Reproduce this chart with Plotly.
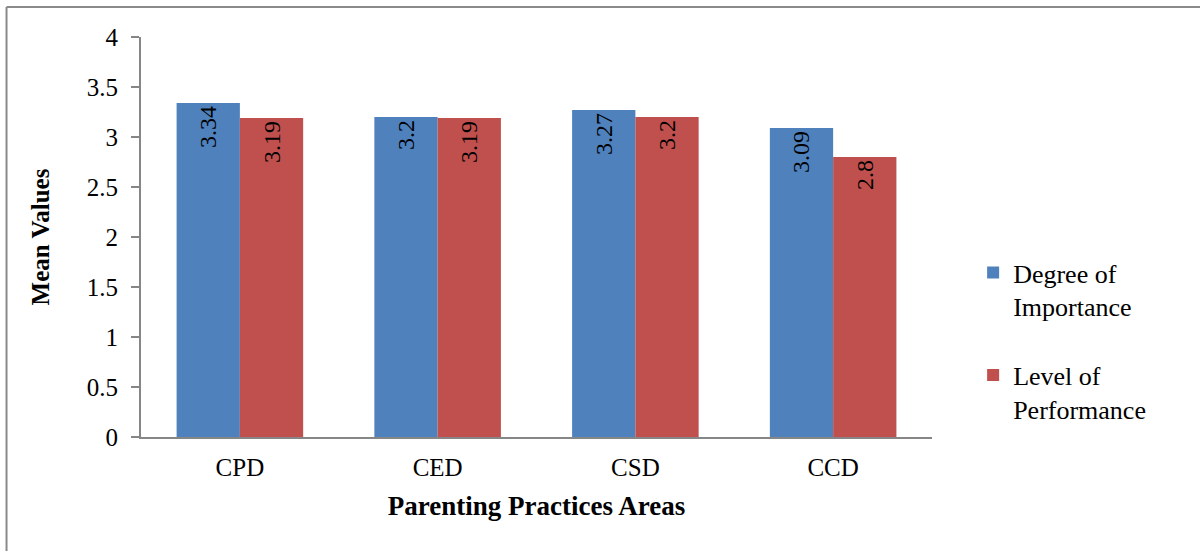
import plotly.graph_objects as go

categories = ["CPD", "CED", "CSD", "CCD"]
importance = [3.34, 3.2, 3.27, 3.09]
performance = [3.19, 3.19, 3.2, 2.8]
series_names = ["Degree of<br>Importance", "Level of<br>Performance"]
y_ticks = [0, 0.5, 1, 1.5, 2, 2.5, 3, 3.5, 4]
y_tick_labels = ["0", "0.5", "1", "1.5", "2", "2.5", "3", "3.5", "4"]

FONT = "Liberation Serif"
AXIS_GRAY = "#868686"

fig = go.Figure()
for name, vals, color, grp in [
    (series_names[0], importance, "#4F81BD", "a"),
    (series_names[1], performance, "#C0504D", "b"),
]:
    fig.add_trace(go.Bar(
        x=categories, y=vals, name=name, legendgroup=grp,
        marker=dict(color=color, line=dict(width=0)),
        text=[str(v) for v in vals], textposition="inside",
        insidetextanchor="end", textangle=-90, constraintext="none",
        textfont=dict(family=FONT, size=24, color="black"),
    ))

fig.update_layout(
    width=1200, height=551,
    margin=dict(l=141, r=268, t=37, b=114),
    paper_bgcolor="white", plot_bgcolor="white",
    barmode="group", bargap=0.36, bargroupgap=0,
    font=dict(family=FONT, size=25, color="black"),
    showlegend=True,
    legend=dict(x=1.052, y=0.47, xanchor="left", yanchor="top",
                font=dict(family=FONT, size=26, color="black"),
                valign="top", tracegroupgap=32, itemwidth=30,
                bgcolor="rgba(0,0,0,0)"),
    xaxis=dict(
        showline=True, linecolor=AXIS_GRAY, linewidth=2,
        ticks="", showgrid=False, ticklabelstandoff=7,
        tickfont=dict(family=FONT, size=25, color="black"),
        title=dict(text="<b>Parenting Practices Areas</b>", standoff=16,
                   font=dict(family=FONT, size=27, color="black")),
    ),
    yaxis=dict(
        range=[0, 4], tickvals=y_ticks, ticktext=y_tick_labels,
        showline=True, linecolor=AXIS_GRAY, linewidth=2,
        ticks="outside", ticklen=8, tickcolor=AXIS_GRAY, tickwidth=2,
        showgrid=False, zeroline=False, ticklabelstandoff=8,
        tickfont=dict(family=FONT, size=25, color="black"),
        title=dict(text="<b>Mean Values</b>", standoff=30,
                   font=dict(family=FONT, size=25, color="black")),
    ),
    shapes=[
        dict(type="line", xref="paper", yref="paper", x0=-0.170, x1=-0.170,
             y0=1.075, y1=-0.5, line=dict(color="#8a8a8a", width=2)),
        dict(type="line", xref="paper", yref="paper", x0=-0.170, x1=1.6,
             y0=1.075, y1=1.075, line=dict(color="#8a8a8a", width=2)),
    ],
)

fig.write_html("out.html")
